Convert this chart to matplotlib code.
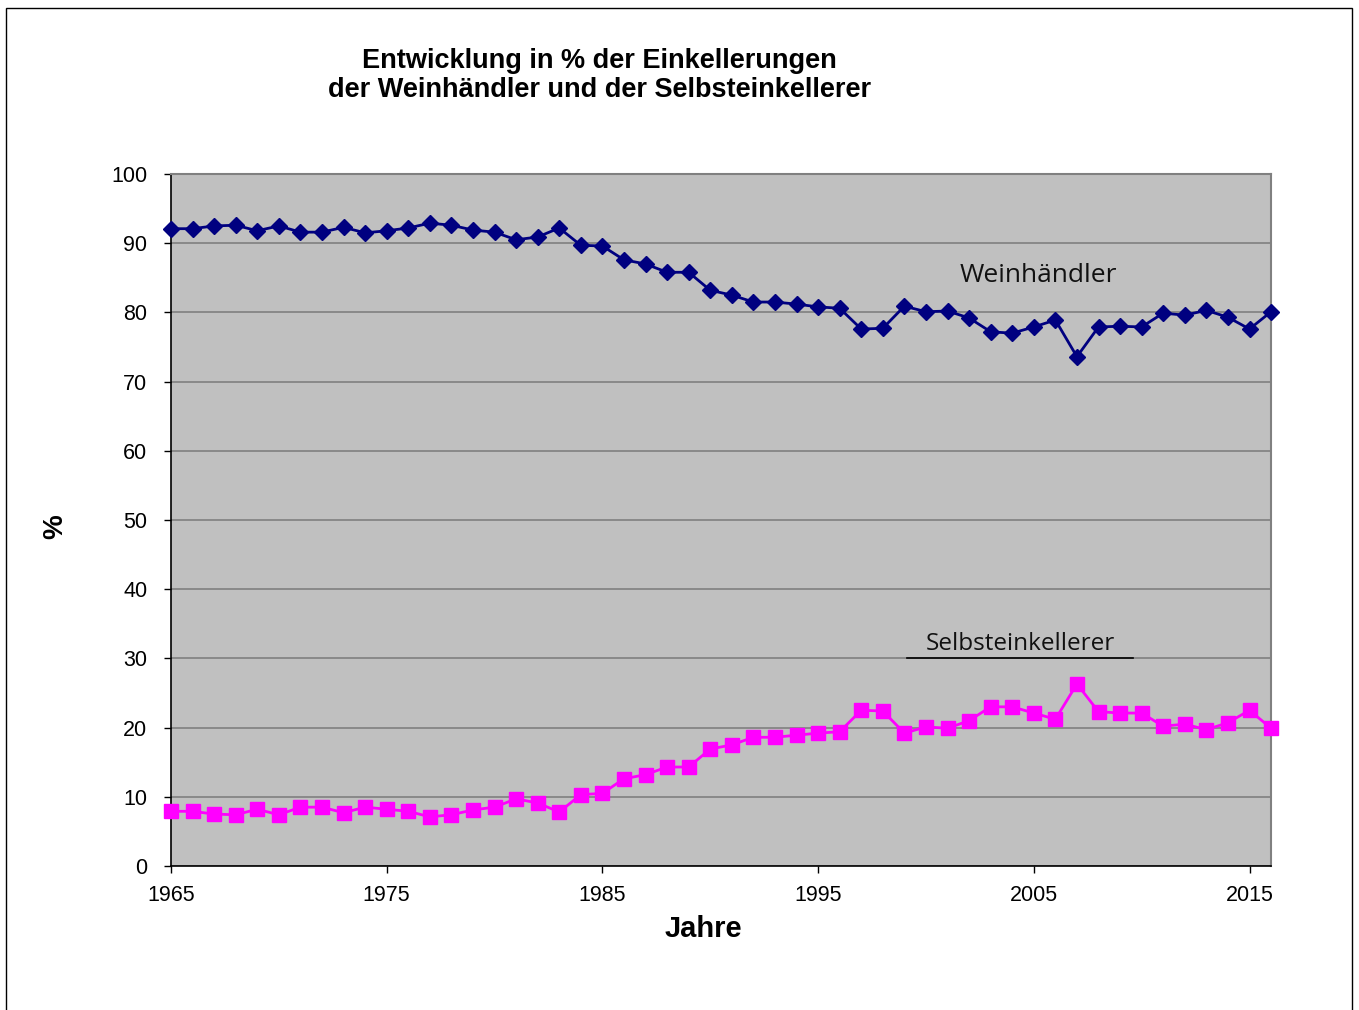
#!/usr/bin/env python3
"""Entwicklung der Einkellerungen: Weinhaendler vs. Selbsteinkellerer."""

import numpy as np
import matplotlib
matplotlib.use("Agg")
import matplotlib.pyplot as plt
from matplotlib.lines import Line2D
from matplotlib.patches import Rectangle

# Data
years = list(range(1965, 2017))
weinhaendler = [
    92.1, 92.1, 92.5, 92.6, 91.8, 92.5, 91.6, 91.6, 92.3, 91.5,
    91.8, 92.2, 92.9, 92.6, 91.9, 91.6, 90.5, 90.9, 92.2, 89.7,
    89.6, 87.6, 87.0, 85.8, 85.8, 83.2, 82.5, 81.5, 81.5, 81.2,
    80.8, 80.6, 77.6, 77.7, 80.9, 80.1, 80.2, 79.2, 77.2, 77.0,
    77.9, 78.9, 73.6, 77.9, 78.0, 77.9, 79.9, 79.6, 80.3, 79.3,
    77.6, 80.1,
]
selbsteinkellerer = [
    7.9, 7.9, 7.5, 7.4, 8.2, 7.4, 8.5, 8.5, 7.7, 8.5,
    8.2, 7.9, 7.1, 7.4, 8.1, 8.5, 9.7, 9.1, 7.8, 10.3,
    10.5, 12.6, 13.2, 14.3, 14.3, 16.9, 17.5, 18.6, 18.6, 18.9,
    19.2, 19.4, 22.5, 22.4, 19.2, 20.1, 19.9, 21.0, 23.0, 23.0,
    22.1, 21.2, 26.3, 22.3, 22.1, 22.1, 20.2, 20.5, 19.7, 20.7,
    22.5, 19.9,
]
x_ticks = [1965, 1975, 1985, 1995, 2005, 2015]
y_ticks = list(range(0, 101, 10))

NAVY = "#000080"
MAGENTA = "#FF00FF"
PLOT_BG = "#C0C0C0"
GRID = "#808080"

plt.rcParams["font.family"] = ["Liberation Sans", "DejaVu Sans"]

fig = plt.figure(figsize=(13.59, 10.10), dpi=100)
ax = fig.add_axes([0.1258, 0.1426, 0.8095, 0.6851])

# Outer chart border
fig.patches.append(Rectangle((6 / 1359, -0.01), 1346 / 1359, 1 - 8 / 1010 + 0.01,
                             transform=fig.transFigure, fill=False,
                             edgecolor="black", linewidth=1.0))

ax.set_facecolor(PLOT_BG)
ax.plot(years, weinhaendler, color=NAVY, linewidth=2, marker="D",
        markersize=8, clip_on=False, zorder=3)
ax.plot(years, selbsteinkellerer, color=MAGENTA, linewidth=2, marker="s",
        markersize=10, clip_on=False, zorder=3)

ax.set_xlim(1965, 2016)
ax.set_ylim(0, 100)
ax.set_xticks(x_ticks)
ax.set_yticks(y_ticks)
ax.yaxis.grid(True, color=GRID, linewidth=1.2)
ax.set_axisbelow(True)
ax.tick_params(axis="both", direction="out", length=5, width=1,
               labelsize=15.5, colors="black")
ax.tick_params(axis="x", pad=9)
ax.tick_params(axis="y", pad=12)

for side in ("top", "right"):
    ax.spines[side].set_color(GRID)
    ax.spines[side].set_linewidth(1.5)
for side in ("left", "bottom"):
    ax.spines[side].set_color("black")
    ax.spines[side].set_linewidth(1.2)

ax.set_xlabel("Jahre", fontsize=21, fontweight="bold", va="center")
ax.xaxis.set_label_coords(0.4836, -0.091)
ax.set_ylabel("%", fontsize=20, fontweight="bold", va="center")
ax.yaxis.set_label_coords(-0.105, 0.49)

fig.text(0.441, 0.925, "Entwicklung in % der Einkellerungen\nder Weinhändler und der Selbsteinkellerer",
         ha="center", va="center", fontsize=19.5, fontweight="bold",
         linespacing=1.15)

# Series labels inside the plot
ax.text(2005.2, 85.4, "Weinhändler", fontsize=19, family="Open Sans",
        ha="center", va="center", color="#111111")
ax.text(2004.4, 32.1, "Selbsteinkellerer", fontsize=17.5, family="Open Sans",
        ha="center", va="center", color="#111111")
ax.add_line(Line2D([1999.1, 2009.6], [30, 30], color="black", linewidth=1.2,
                   zorder=2))

fig.savefig("out.png", dpi=100, facecolor="white")
